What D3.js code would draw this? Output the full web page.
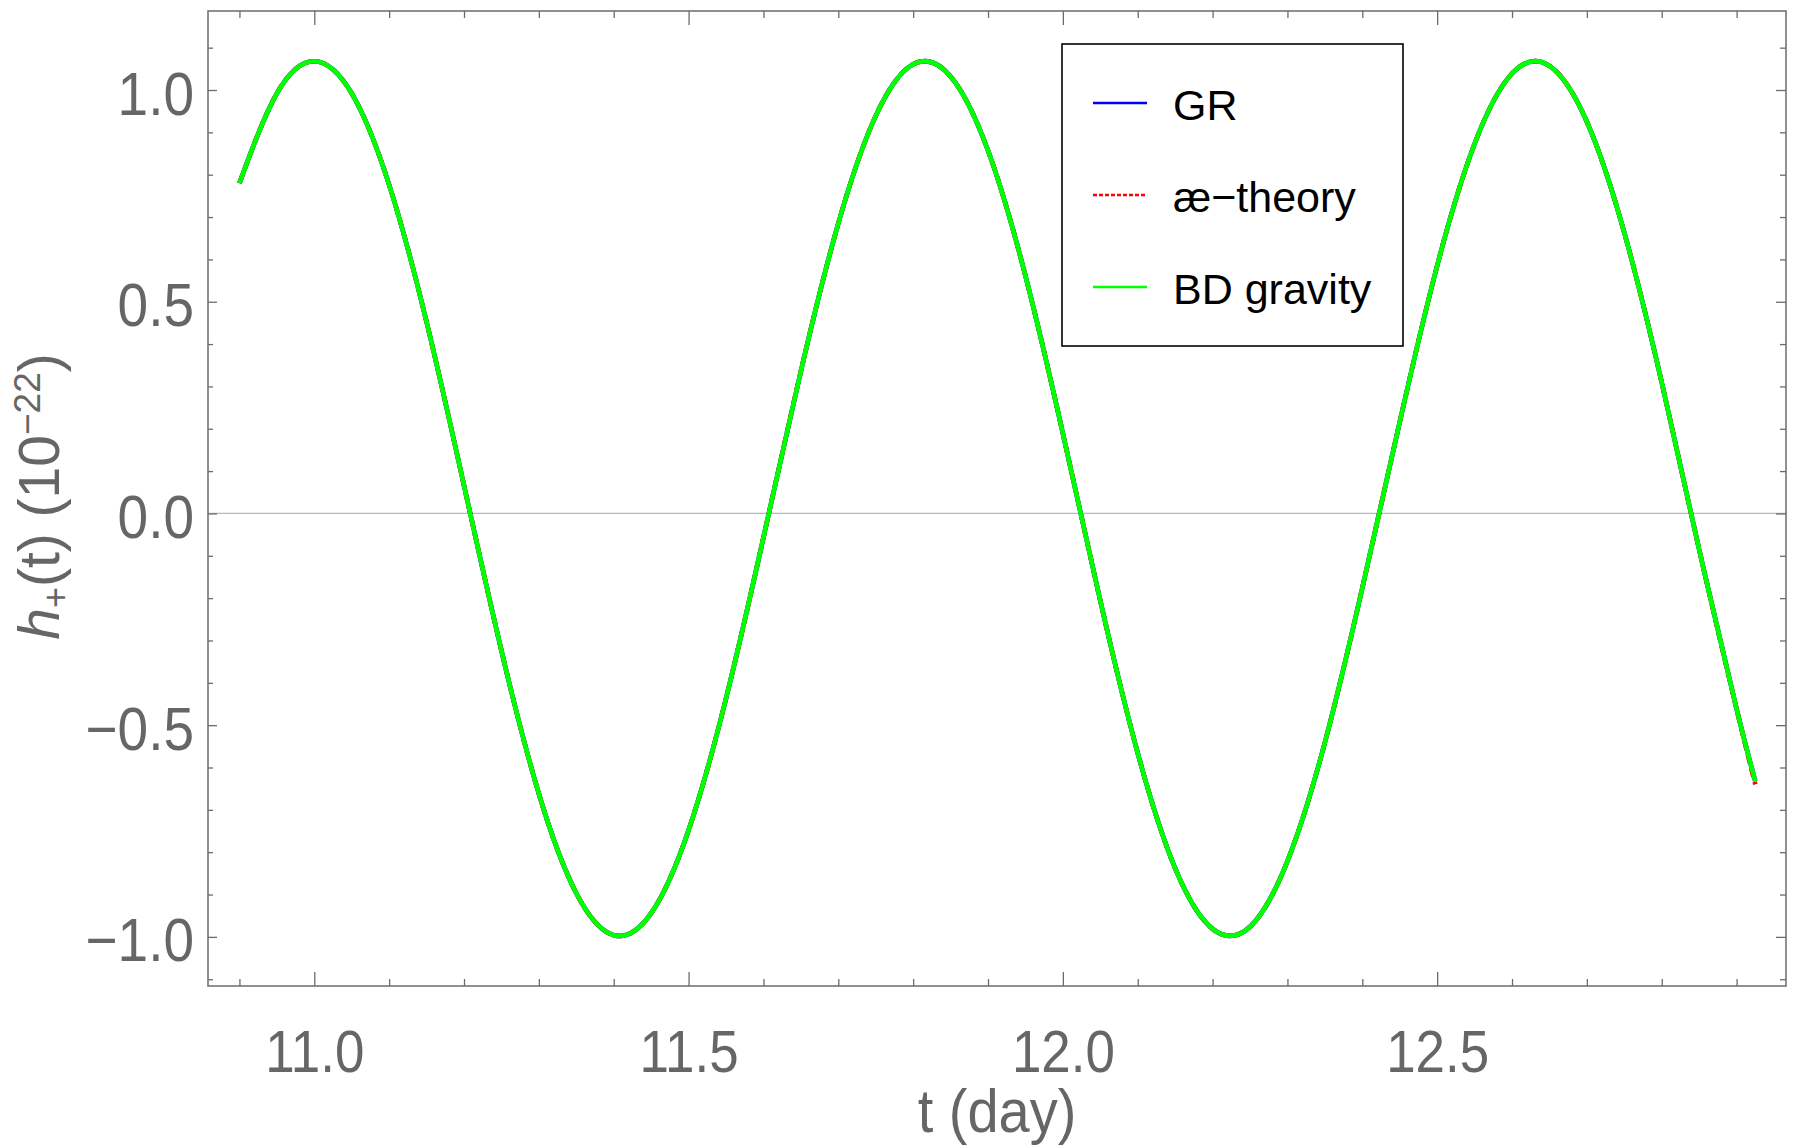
<!DOCTYPE html>
<html>
<head>
<meta charset="utf-8">
<script src="https://cdn.jsdelivr.net/npm/d3@7"></script>
<style>
  body { margin: 0; background: #fff; }
</style>
</head>
<body>
<div id="chart"></div>
<script>
const tDays = [10.90, 10.95, 11.00, 11.05, 11.10, 11.15, 11.20, 11.25, 11.30, 11.35,
               11.40, 11.45, 11.50, 11.55, 11.60, 11.65, 11.70, 11.75, 11.80, 11.85,
               11.90, 11.95, 12.00, 12.05, 12.10, 12.15, 12.20, 12.25, 12.30, 12.35,
               12.40, 12.45, 12.50, 12.55, 12.60, 12.65, 12.70, 12.75, 12.80, 12.85,
               12.90, 12.925];
const grValues = [0.780, 0.992, 1.068, 0.992, 0.776, 0.452, 0.066, -0.324, -0.662, -0.897,
                  -0.996, -0.944, -0.748, -0.437, -0.057, 0.336, 0.685, 0.939, 1.061, 1.032,
                  0.857, 0.561, 0.189, -0.206, -0.566, -0.838, -0.981, -0.976, -0.821, -0.541,
                  -0.176, 0.216, 0.585, 0.873, 1.039, 1.057, 0.925, 0.663, 0.309, -0.085,
                  -0.462, -0.632];
// the three theories overlap at this scale
const aeValues = [0.780, 0.992, 1.068, 0.992, 0.776, 0.452, 0.066, -0.324, -0.662, -0.897,
                  -0.996, -0.944, -0.748, -0.437, -0.057, 0.336, 0.685, 0.939, 1.061, 1.032,
                  0.857, 0.561, 0.189, -0.206, -0.566, -0.838, -0.981, -0.976, -0.821, -0.541,
                  -0.176, 0.216, 0.585, 0.873, 1.039, 1.057, 0.925, 0.663, 0.309, -0.085,
                  -0.462, -0.640];
const bdValues = [0.780, 0.992, 1.068, 0.992, 0.776, 0.452, 0.066, -0.324, -0.662, -0.897,
                  -0.996, -0.944, -0.748, -0.437, -0.057, 0.336, 0.685, 0.939, 1.061, 1.032,
                  0.857, 0.561, 0.189, -0.206, -0.566, -0.838, -0.981, -0.976, -0.821, -0.541,
                  -0.176, 0.216, 0.585, 0.873, 1.039, 1.057, 0.925, 0.663, 0.309, -0.085,
                  -0.462, -0.632];

const xTicks = [11.0, 11.5, 12.0, 12.5];
const yTicks = [-1.0, -0.5, 0.0, 0.5, 1.0];
const legendLabels = ["GR", "æ\u2212theory", "BD gravity"];

// set the dimensions and margins of the graph
const margin = { top: 11, right: 14, bottom: 162, left: 208 },
    width = 1800 - margin.left - margin.right,
    height = 1148 - margin.top - margin.bottom;

const axisColor = "#6b6b6b";
const labelColor = "#666666";

const svg = d3.select("#chart")
    .append("svg")
    .attr("width", 1800)
    .attr("height", 1148)
    .style("font-family", "'Liberation Sans', Arial, sans-serif");

const g = svg.append("g")
    .attr("transform", `translate(${margin.left}, ${margin.top})`);

const x = d3.scaleLinear().domain([10.858, 12.966]).range([0, width]);
const y = d3.scaleLinear().domain([-1.116, 1.1866]).range([height, 0]);

// minor tick positions every 0.1
const xMinor = d3.range(10.9, 12.95, 0.1).map(v => +v.toFixed(1));
const yMinor = d3.range(-1.1, 1.15, 0.1).map(v => +v.toFixed(1));

// zero line
g.append("line")
    .attr("x1", 0).attr("x2", width)
    .attr("y1", y(0)).attr("y2", y(0))
    .attr("stroke", "#b8b8b8")
    .attr("stroke-width", 1.3);

// curves
const series = [
    { name: legendLabels[0], values: grValues, color: "#0000ff", dash: null },
    { name: legendLabels[1], values: aeValues, color: "#ff0000", dash: "9,5" },
    { name: legendLabels[2], values: bdValues, color: "#00ff00", dash: null }
];

const line = d3.line()
    .x((d, i) => x(tDays[i]))
    .y(d => y(d))
    .curve(d3.curveNatural);

g.selectAll(".curve")
    .data(series)
    .join("path")
    .attr("class", "curve")
    .attr("d", d => line(d.values))
    .attr("fill", "none")
    .attr("stroke", d => d.color)
    .attr("stroke-width", 4.6)
    .attr("stroke-dasharray", d => d.dash);

// frame ticks (inward, on all four sides)
function styleAxis(sel) {
    sel.select(".domain").remove();
    sel.selectAll(".tick line").attr("stroke", axisColor).attr("stroke-width", 1.3);
}

const bottomMajor = g.append("g")
    .attr("transform", `translate(0, ${height})`)
    .call(d3.axisBottom(x).tickValues(xTicks).tickSize(-14).tickFormat(d3.format(".1f")));
bottomMajor.call(styleAxis);
bottomMajor.selectAll("text")
    .attr("y", 0).attr("dy", null)
    .attr("transform", "translate(0, 86) scale(0.98, 1.1)")
    .attr("fill", labelColor)
    .style("font-size", "54px");

g.append("g")
    .attr("transform", `translate(0, ${height})`)
    .call(d3.axisBottom(x).tickValues(xMinor.filter(v => !xTicks.includes(v))).tickSize(-7).tickFormat(""))
    .call(styleAxis);

g.append("g")
    .call(d3.axisTop(x).tickValues(xTicks).tickSize(-14).tickFormat(""))
    .call(styleAxis);
g.append("g")
    .call(d3.axisTop(x).tickValues(xMinor.filter(v => !xTicks.includes(v))).tickSize(-7).tickFormat(""))
    .call(styleAxis);

const leftMajor = g.append("g")
    .call(d3.axisLeft(y).tickValues(yTicks).tickSize(-9).tickFormat(d3.format(".1f")));
leftMajor.call(styleAxis);
leftMajor.selectAll("text")
    .attr("x", 0).attr("dy", null)
    .attr("transform", "translate(-14, 24) scale(1, 1.1)")
    .attr("fill", labelColor)
    .style("font-size", "55px");

g.append("g")
    .call(d3.axisLeft(y).tickValues(yMinor.filter(v => !yTicks.includes(v))).tickSize(-5).tickFormat(""))
    .call(styleAxis);

g.append("g")
    .attr("transform", `translate(${width}, 0)`)
    .call(d3.axisRight(y).tickValues(yTicks).tickSize(-10).tickFormat(""))
    .call(styleAxis);
g.append("g")
    .attr("transform", `translate(${width}, 0)`)
    .call(d3.axisRight(y).tickValues(yMinor.filter(v => !yTicks.includes(v))).tickSize(-6).tickFormat(""))
    .call(styleAxis);

// frame
g.append("rect")
    .attr("width", width).attr("height", height)
    .attr("fill", "none")
    .attr("stroke", axisColor)
    .attr("stroke-width", 1.5);

// axis titles
g.append("text")
    .attr("transform", `translate(${width / 2}, ${height + 146}) scale(1, 1.08)`)
    .attr("text-anchor", "middle")
    .attr("fill", labelColor)
    .style("font-size", "56px")
    .text("t (day)");

const yTitle = svg.append("text")
    .attr("transform", `translate(59, ${margin.top + height / 2 - 2}) rotate(-90)`)
    .attr("text-anchor", "middle")
    .attr("fill", labelColor)
    .style("font-size", "57px");
yTitle.append("tspan").style("font-style", "italic").text("h");
yTitle.append("tspan").attr("dy", 9).style("font-size", "36px").text("+");
yTitle.append("tspan").attr("dy", -9).text("(t)\u00a0(10");
yTitle.append("tspan").attr("dy", -19).style("font-size", "37px").text("\u221222");
yTitle.append("tspan").attr("dy", 19).text(")");

// legend
const legend = svg.append("g").attr("transform", "translate(1062, 44)");
legend.append("rect")
    .attr("width", 341).attr("height", 302)
    .attr("fill", "#fff")
    .attr("stroke", "#000")
    .attr("stroke-width", 1.6);

const items = legend.selectAll(".item")
    .data(series)
    .join("g")
    .attr("class", "item")
    .attr("transform", (d, i) => `translate(0, ${59 + i * 92})`);

items.append("line")
    .attr("x1", 31).attr("x2", 85)
    .attr("stroke", d => d.color)
    .attr("stroke-width", 2.6)
    .attr("stroke-dasharray", d => d.dash ? "4,2" : null);

items.append("text")
    .attr("x", 111)
    .attr("y", 17)
    .attr("fill", "#000")
    .style("font-size", "43px")
    .text(d => d.name);
</script>
</body>
</html>
